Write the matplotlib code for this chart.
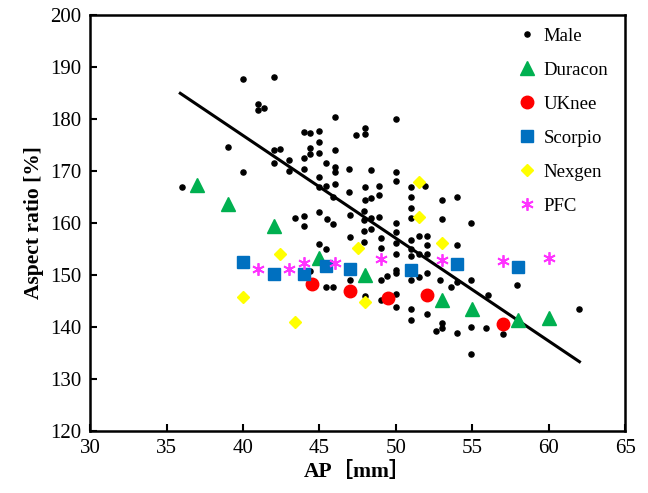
import matplotlib
matplotlib.use("Agg")
import matplotlib.pyplot as plt

# Male measurements (AP mm, aspect ratio %)
male_ap = [40.0, 39.0, 40.0, 36.0, 42.0, 41.0, 41.0, 41.4, 46.0, 47.4,
           44.0, 44.4, 45.0, 45.0, 42.0, 42.4, 44.4, 44.4, 45.0, 46.0,
           44.0, 43.0, 42.0, 45.4, 46.0, 46.0, 46.9, 44.0, 43.0, 45.0,
           46.0, 45.0, 45.4, 46.9, 45.9, 50.0, 48.0, 48.0, 48.4, 50.0,
           50.0, 48.0, 48.9, 51.0, 51.9, 48.0, 48.4, 48.9, 51.0, 53.0,
           54.0, 51.0, 45.9, 47.0, 47.9, 47.9, 48.4, 48.9, 50.0, 51.0,
           54.9, 47.9, 48.4, 50.0, 47.0, 47.9, 49.0, 50.0, 51.0, 51.5,
           52.0, 52.0, 54.0, 45.0, 45.4, 49.0, 50.0, 51.0, 51.5, 52.0,
           50.0, 50.0, 49.4, 49.0, 51.0, 51.5, 52.0, 47.0, 45.4, 45.9,
           50.0, 49.0, 50.0, 51.0, 51.0, 52.0, 48.0, 53.0, 53.0, 52.6,
           54.0, 54.9, 54.9, 55.9, 57.0, 54.9, 54.0, 53.6, 56.0, 57.9,
           53.0, 51.0, 52.9, 43.4, 44.0, 44.0, 45.0, 45.5, 44.4, 62.0]
male_ratio = [187.6, 174.5, 169.8, 166.8, 188.1, 182.8, 181.6, 182.0, 180.3, 176.9,
              177.4, 177.3, 177.6, 175.5, 174.0, 174.2, 174.3, 173.2, 173.4, 174.0,
              172.4, 172.0, 171.5, 171.6, 170.8, 169.7, 170.3, 170.4, 170.0, 168.8,
              167.5, 166.9, 167.1, 165.9, 165.0, 180.0, 178.3, 177.1, 170.2, 169.8,
              168.1, 166.8, 167.1, 166.8, 167.1, 164.4, 164.8, 165.4, 164.9, 164.4,
              164.9, 162.9, 159.8, 161.5, 162.3, 160.5, 160.9, 161.1, 160.0, 160.9,
              160.0, 158.5, 158.9, 158.3, 157.3, 156.4, 157.0, 156.1, 156.7, 157.5,
              157.5, 155.7, 155.7, 155.9, 154.9, 155.1, 154.1, 153.6, 154.1, 154.1,
              150.9, 150.3, 149.8, 149.1, 149.1, 149.6, 150.3, 149.0, 147.6, 147.6,
              146.3, 145.2, 143.9, 143.4, 141.4, 142.5, 145.9, 140.8, 139.8, 139.2,
              138.9, 149.0, 139.9, 139.8, 138.6, 134.8, 148.6, 147.7, 146.1, 148.0,
              160.7, 154.9, 149.0, 160.9, 161.3, 159.4, 162.1, 160.7, 150.8, 143.4]

# fitted trend line (end points)
fit_ap = [35.9, 62.0]
fit_ratio = [184.9, 133.3]

duracon_ap = [37, 39, 42, 45, 48, 53, 55, 58, 60]
duracon_ratio = [167.3, 163.7, 159.4, 153.2, 150.0, 145.2, 143.5, 141.4, 141.7]

uknee_ap = [44.5, 47, 49.5, 52, 57]
uknee_ratio = [148.2, 146.9, 145.5, 146.1, 140.5]

scorpio_ap = [40, 42, 44, 45.4, 47, 51, 54, 58]
scorpio_ratio = [152.5, 150.2, 150.2, 151.7, 151.1, 150.9, 152.0, 151.6]

nexgen_ap = [40, 42.4, 43.4, 47.5, 48, 51.5, 51.5, 53]
nexgen_ratio = [145.8, 154.1, 141.0, 155.2, 144.8, 167.9, 161.1, 156.2]

pfc_ap = [41, 43, 44, 46, 49, 53, 57, 60]
pfc_ratio = [151.1, 151.1, 152.3, 152.2, 153.0, 152.8, 152.6, 153.2]

plt.rcParams['font.family'] = ['Liberation Serif', 'Noto Sans CJK SC']

fig = plt.figure(figsize=(6.48, 4.93), dpi=100)
ax = fig.add_axes([0.139, 0.126, 0.826, 0.844])

ax.plot(male_ap, male_ratio, 'o', color='black', markersize=3.7, label='Male', zorder=2)
ax.plot(fit_ap, fit_ratio, '-', color='black', linewidth=2.2, zorder=3)
ax.plot(duracon_ap, duracon_ratio, '^', color='#00B050', markersize=9.5, linestyle='none', label='Duracon', zorder=4)
ax.plot(uknee_ap, uknee_ratio, 'o', color='#FF0000', markersize=9, linestyle='none', label='UKnee', zorder=4)
ax.plot(scorpio_ap, scorpio_ratio, 's', color='#0070C0', markersize=8.5, linestyle='none', label='Scorpio', zorder=4)
ax.plot(nexgen_ap, nexgen_ratio, 'D', color='#FFFF00', markersize=6.3, linestyle='none', label='Nexgen', zorder=4)
ax.plot(pfc_ap, pfc_ratio, marker=(6, 2, 0), color='#FF33FF', markersize=9, markeredgewidth=1.3,
        linestyle='none', label='PFC', zorder=4)

ax.set_xlim(30, 65)
ax.set_ylim(120, 200)
ax.set_xticks(range(30, 66, 5))
ax.set_yticks(range(120, 201, 10))
ax.tick_params(direction='in', length=5, width=1.5, labelsize=15, pad=6)
for s in ax.spines.values():
    s.set_linewidth(1.8)

ax.set_xlabel('AP［mm］', fontsize=15.5, fontweight='bold', labelpad=3)
ax.set_ylabel('Aspect ratio [%]', fontsize=15.5, fontweight='bold', labelpad=5)

ax.legend(loc='upper right', frameon=False, fontsize=13.5, labelspacing=0.9,
          handletextpad=0.3, handlelength=1.2, bbox_to_anchor=(1.0, 1.01))

fig.savefig('out.png', dpi=100)
